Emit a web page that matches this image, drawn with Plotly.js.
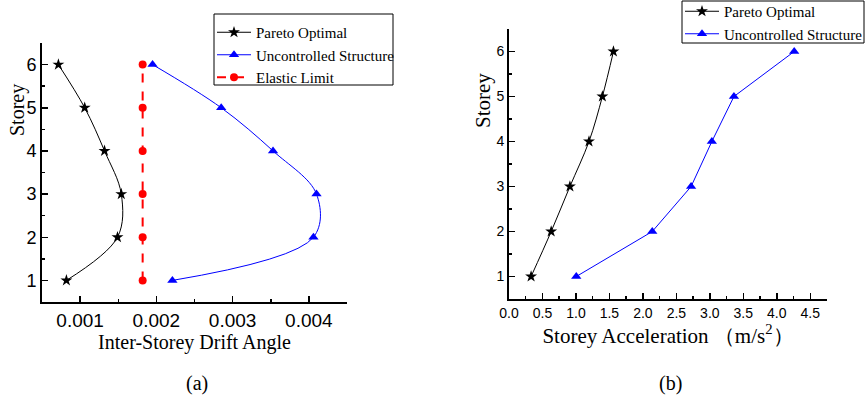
<!DOCTYPE html>
<html><head><meta charset="utf-8">
<script src="https://cdn.plot.ly/plotly-3.0.1.min.js"></script>
<style>html,body{margin:0;padding:0;background:#fff}#chart{width:866px;height:400px}</style>
</head><body><div id="chart"></div>
<script>
// Data
const storeys = [1, 2, 3, 4, 5, 6];
const driftPareto = [0.00082, 0.00149, 0.00154, 0.00132, 0.00106, 0.000715];
const driftUncontrolled = [0.00221, 0.00406, 0.0041, 0.00353, 0.00285, 0.00195];
const driftElastic = [0.00182, 0.00182, 0.00182, 0.00182, 0.00182, 0.00182];
const accPareto = [0.33, 0.63, 0.91, 1.195, 1.395, 1.56];
const accUncontrolled = [1.005, 2.14, 2.72, 3.03, 3.36, 4.26];
const names = ['Pareto Optimal', 'Uncontrolled Structure', 'Elastic Limit'];

const serif = 'Liberation Serif, Times New Roman, serif';
const sans = 'Liberation Sans, Arial, sans-serif';

const traces = [
  {x: driftPareto, y: storeys, xaxis: 'x', yaxis: 'y', name: names[0], mode: 'lines+markers',
   line: {color: '#000', width: 1, shape: 'spline'}, marker: {symbol: 'star', size: 9, color: '#000'}, legend: 'legend'},
  {x: driftUncontrolled, y: storeys, xaxis: 'x', yaxis: 'y', name: names[1], mode: 'lines+markers',
   line: {color: '#0000ff', width: 1, shape: 'spline'}, marker: {symbol: 'triangle-up', size: 9, color: '#0000ff'}, legend: 'legend'},
  {x: driftElastic, y: storeys, xaxis: 'x', yaxis: 'y', name: names[2], mode: 'lines+markers',
   line: {color: '#ff0000', width: 2, dash: 'dash'}, marker: {symbol: 'circle', size: 8, color: '#ff0000'}, legend: 'legend'},
  {x: accPareto, y: storeys, xaxis: 'x2', yaxis: 'y2', name: names[0], mode: 'lines+markers',
   line: {color: '#000', width: 1, shape: 'spline'}, marker: {symbol: 'star', size: 9, color: '#000'}, legend: 'legend2'},
  {x: accUncontrolled, y: storeys, xaxis: 'x2', yaxis: 'y2', name: names[1], mode: 'lines+markers',
   line: {color: '#0000ff', width: 1}, marker: {symbol: 'triangle-up', size: 9, color: '#0000ff'}, legend: 'legend2'}
];

const W = 866, H = 400;
const axBase = {showgrid: false, zeroline: false, showline: true, linecolor: '#000', linewidth: 2,
  ticks: 'inside', ticklen: 6, tickwidth: 1.5, tickcolor: '#000', mirror: false, fixedrange: true};

const px = v => v / W, py = v => 1 - v / H;

const layout = {
  width: W, height: H, margin: {l: 0, r: 0, t: 0, b: 0, autoexpand: false},
  paper_bgcolor: '#fff', plot_bgcolor: '#fff', showlegend: true,
  xaxis: Object.assign({}, axBase, {domain: [px(42), px(347)], range: [0.0005, 0.0045], anchor: 'y',
    tickvals: [0.001, 0.002, 0.003, 0.004], ticktext: ['0.001', '0.002', '0.003', '0.004'],
    tickfont: {family: sans, size: 19, color: '#000'},
    minor: {dtick: 0.0005, tick0: 0.0005, ticks: 'inside', ticklen: 3, tickcolor: '#000'},
    title: {text: 'Inter-Storey Drift Angle', font: {family: serif, size: 20, color: '#000'}, standoff: 2}}),
  yaxis: Object.assign({}, axBase, {domain: [py(302), py(43)], range: [0.5, 6.5], anchor: 'x',
    dtick: 1, tick0: 1, tickfont: {family: sans, size: 18, color: '#000'},
    minor: {dtick: 0.5, tick0: 0.5, ticks: 'inside', ticklen: 3, tickcolor: '#000'}}),
  xaxis2: Object.assign({}, axBase, {domain: [px(509), px(827)], range: [0, 4.75], anchor: 'y2',
    dtick: 0.5, tick0: 0, tickformat: '.1f', tickfont: {family: sans, size: 14, color: '#000'},
    minor: {dtick: 0.25, tick0: 0, ticks: 'inside', ticklen: 3, tickcolor: '#000'},
    title: {text: 'Storey Acceleration （m/s<sup>2</sup>）', font: {family: serif, size: 21, color: '#000'}, standoff: 6}}),
  yaxis2: Object.assign({}, axBase, {domain: [py(299), py(29)], range: [0.5, 6.5], anchor: 'x2',
    dtick: 1, tick0: 1, tickfont: {family: sans, size: 14, color: '#000'},
    minor: {dtick: 0.5, tick0: 0.5, ticks: 'inside', ticklen: 3, tickcolor: '#000'}}),
  legend: {x: px(212), y: py(16), xanchor: 'left', yanchor: 'top', bgcolor: 'rgba(0,0,0,0)',
    borderwidth: 0, font: {family: serif, size: 15, color: '#000'},
    tracegroupgap: 0, itemwidth: 34},
  legend2: {x: px(680), y: py(-5), xanchor: 'left', yanchor: 'top', bgcolor: 'rgba(0,0,0,0)',
    borderwidth: 0, font: {family: serif, size: 15, color: '#000'},
    tracegroupgap: 0, itemwidth: 34},
  shapes: [
    {type: 'rect', xref: 'paper', yref: 'paper', x0: px(214), x1: px(393), y0: py(85), y1: py(14),
     line: {color: '#000', width: 1}, fillcolor: 'rgba(0,0,0,0)'},
    {type: 'rect', xref: 'paper', yref: 'paper', x0: px(682), x1: px(864), y0: py(43), y1: py(1),
     line: {color: '#000', width: 1}, fillcolor: 'rgba(0,0,0,0)'}
  ],
  annotations: [
    {text: 'Storey', textangle: -90, xref: 'paper', yref: 'paper', x: px(17), y: py(110),
     xanchor: 'center', yanchor: 'middle', showarrow: false, font: {family: serif, size: 20, color: '#000'}},
    {text: 'Storey', textangle: -90, xref: 'paper', yref: 'paper', x: px(483), y: py(100),
     xanchor: 'center', yanchor: 'middle', showarrow: false, font: {family: serif, size: 21, color: '#000'}},
    {text: '(a)', xref: 'paper', yref: 'paper', x: px(197), y: py(383),
     xanchor: 'center', yanchor: 'middle', showarrow: false, font: {family: serif, size: 20, color: '#000'}},
    {text: '(b)', xref: 'paper', yref: 'paper', x: px(670), y: py(383),
     xanchor: 'center', yanchor: 'middle', showarrow: false, font: {family: serif, size: 20, color: '#000'}}
  ]
};

Plotly.newPlot('chart', traces, layout, {staticPlot: true, displayModeBar: false});
</script></body></html>
